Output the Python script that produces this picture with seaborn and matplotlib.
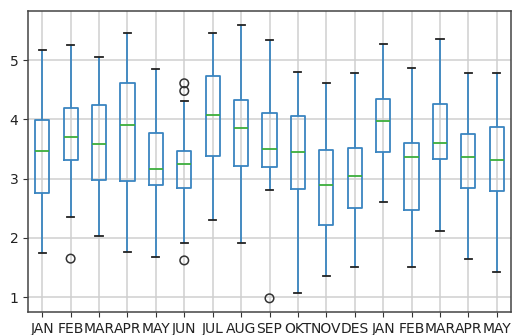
import numpy as np
import pandas as pd
import matplotlib
matplotlib.use("Agg")
import matplotlib.pyplot as plt
import seaborn as sns

months = ["JAN", "FEB", "MAR", "APR", "MAY", "JUN", "JUL", "AUG", "SEP",
          "OKT", "NOV", "DES", "JAN", "FEB", "MAR", "APR", "MAY"]
whislo = [1.74, 2.36, 2.03, 1.77, 1.68, 1.91, 2.31, 1.91, 2.80, 1.07, 1.35, 1.51, 2.61, 1.51, 2.12, 1.65, 1.42]
q1 = [2.75, 3.31, 2.98, 2.96, 2.89, 2.84, 3.38, 3.22, 3.19, 2.82, 2.21, 2.51, 3.45, 2.47, 3.33, 2.84, 2.79]
med = [3.47, 3.71, 3.59, 3.91, 3.17, 3.24, 4.08, 3.85, 3.50, 3.45, 2.89, 3.05, 3.97, 3.36, 3.61, 3.36, 3.31]
q3 = [3.99, 4.19, 4.24, 4.62, 3.77, 3.47, 4.73, 4.32, 4.10, 4.05, 3.49, 3.52, 4.34, 3.61, 4.26, 3.75, 3.87]
whishi = [5.18, 5.25, 5.06, 5.46, 4.85, 4.31, 5.46, 5.60, 5.34, 4.80, 4.62, 4.78, 5.27, 4.87, 5.36, 4.78, 4.78]
outlier_pos = [1, 5, 5, 5, 8]
outlier_val = [1.65, 4.61, 4.48, 1.62, 0.98]

rows = []
for i in range(len(months)):
    for v in (whislo[i], q1[i], med[i], q3[i], whishi[i]):
        rows.append({"pos": i, "val": v})
df = pd.DataFrame(rows)
out = pd.DataFrame({"pos": outlier_pos, "val": outlier_val})

plt.rcParams["font.family"] = ["DejaVu Sans"]
plt.rcParams["font.size"] = 10

fig = plt.figure(figsize=(5.13, 3.35), dpi=100)
ax = fig.add_axes([28 / 513, 23 / 335, 483 / 513, 301 / 335])

blue = "#3a85c0"
lw = 1.3
sns.boxplot(data=df, x="pos", y="val", ax=ax, whis=np.inf, width=0.5,
            fill=False, color=blue, linewidth=lw, showfliers=False,
            boxprops=dict(color=blue, linewidth=lw, zorder=2),
            whiskerprops=dict(color=blue, linewidth=lw, zorder=2),
            capprops=dict(color="#222222", linewidth=lw, zorder=2),
            medianprops=dict(color="#3cae3c", linewidth=lw, zorder=2))
sns.scatterplot(data=out, x="pos", y="val", ax=ax, marker="o", s=38,
                facecolor="none", edgecolor="#333333", linewidth=1.1, zorder=3)

ax.set_xticks(range(len(months)))
ax.set_xticklabels(months)
ax.set_xlim(-0.5, len(months) - 0.5)
ax.set_ylim(0.749, 5.83)
ax.set_yticks([1, 2, 3, 4, 5])
ax.set_xlabel("")
ax.set_ylabel("")
ax.tick_params(colors="#333333", labelcolor="#222222")
ax.grid(True, color="#cfcfcf", linewidth=1.1)
ax.set_axisbelow("line")
for gl in ax.get_xgridlines() + ax.get_ygridlines():
    gl.set_zorder(1.5)
for s in ax.spines.values():
    s.set_visible(True)
    s.set_color("#444444")
    s.set_linewidth(1.1)

fig.savefig("out.png", dpi=100)
